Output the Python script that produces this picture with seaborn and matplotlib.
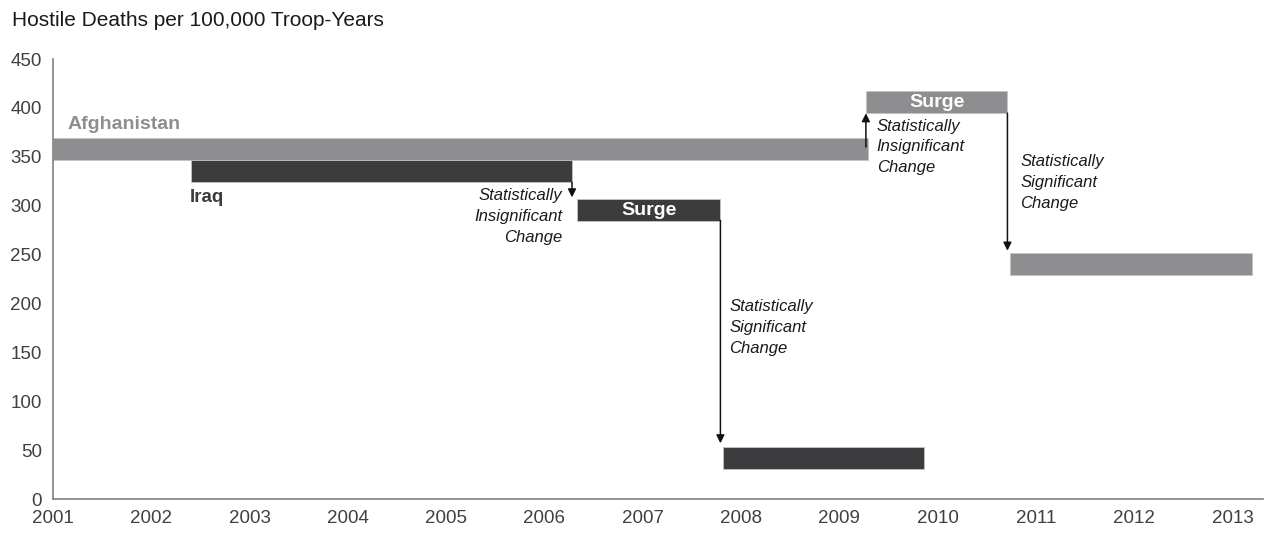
import pandas as pd
import seaborn as sns
import matplotlib.pyplot as plt

# Period averages of hostile deaths per 100,000 troop-years
country = ["Afghanistan", "Iraq", "Iraq", "Iraq", "Afghanistan", "Afghanistan"]
period_start = [2001.0, 2002.40, 2006.33, 2007.82, 2009.27, 2010.74]
period_end = [2009.29, 2006.28, 2007.79, 2009.86, 2010.71, 2013.20]
rate = [358.3, 335.5, 295.5, 42.0, 405.6, 240.5]
surge = [False, False, True, False, True, False]

# change arrows between periods
arrow_year = [2006.28, 2007.79, 2009.27, 2010.71]
arrow_from = [324.0, 285.0, 360.0, 394.6]
arrow_to = [308.5, 57.0, 394.5, 254.0]
arrow_text = ["Statistically\nInsignificant\nChange", "Statistically\nSignificant\nChange",
              "Statistically\nInsignificant\nChange", "Statistically\nSignificant\nChange"]
text_year = [2006.18, 2007.88, 2009.38, 2010.84]
text_rate = [288.8, 175.5, 360.0, 323.5]
text_align = ["right", "left", "left", "left"]

year_ticks = list(range(2001, 2014))
rate_ticks = list(range(0, 451, 50))

df = pd.DataFrame({"country": country, "start": period_start, "end": period_end,
                   "rate": rate, "surge": surge})

sns.set_theme(style="white")
plt.rcParams["font.family"] = ["Liberation Sans", "DejaVu Sans"]

colors = {"Afghanistan": "#8e8e91", "Iraq": "#3c3c3e"}
BAR_H = 22.5

fig = plt.figure(figsize=(12.66, 5.33), dpi=100)
ax = fig.add_axes([53 / 1266, 34 / 533, 1210 / 1266, 440 / 533])

for _, r in df.iterrows():
    ax.barh(r["rate"], r["end"] - r["start"], left=r["start"], height=BAR_H,
            color=colors[r["country"]], edgecolor="#c4c4c4", linewidth=0.6, zorder=2)
    if r["surge"]:
        ax.text((r["start"] + r["end"]) / 2, r["rate"], "Surge", color="white",
                fontsize=14, fontweight="bold", ha="center", va="center", zorder=4)

for x, y0, y1 in zip(arrow_year, arrow_from, arrow_to):
    ax.annotate("", xy=(x, y1), xytext=(x, y0),
                arrowprops=dict(arrowstyle="-|>", color="#111111", lw=1.1,
                                mutation_scale=12, shrinkA=0, shrinkB=0), zorder=3)

for x, y, t, ha in zip(text_year, text_rate, arrow_text, text_align):
    ax.text(x, y, t, fontsize=12, fontstyle="italic", color="#1a1a1a",
            ha=ha, va="center", multialignment=ha, linespacing=1.48)

ax.text(2001.15, 382.7, "Afghanistan", color=colors["Afghanistan"], fontsize=14,
        fontweight="bold", ha="left", va="center")
ax.text(2002.39, 308.0, "Iraq", color=colors["Iraq"], fontsize=13.5,
        fontweight="bold", ha="left", va="center")

ax.set_xlim(2001, 2013.31)
ax.set_ylim(0, 450)
ax.set_xticks(year_ticks)
ax.set_yticks(rate_ticks)
ax.set_xticklabels([str(y) for y in year_ticks])
ax.tick_params(axis="both", direction="in", length=6, width=1, color="#808080",
               labelsize=13.5, labelcolor="#404040")
ax.tick_params(axis="x", pad=8)
ax.tick_params(axis="y", pad=8)
sns.despine(ax=ax)
for side in ["left", "bottom"]:
    ax.spines[side].set_color("#808080")
    ax.spines[side].set_linewidth(1.2)
ax.set_xlabel("")
ax.set_ylabel("")

fig.text(12 / 1266, 1 - 20 / 533, "Hostile Deaths per 100,000 Troop-Years",
         fontsize=15, color="#1a1a1a", ha="left", va="center")

fig.savefig("out.png", dpi=100)
